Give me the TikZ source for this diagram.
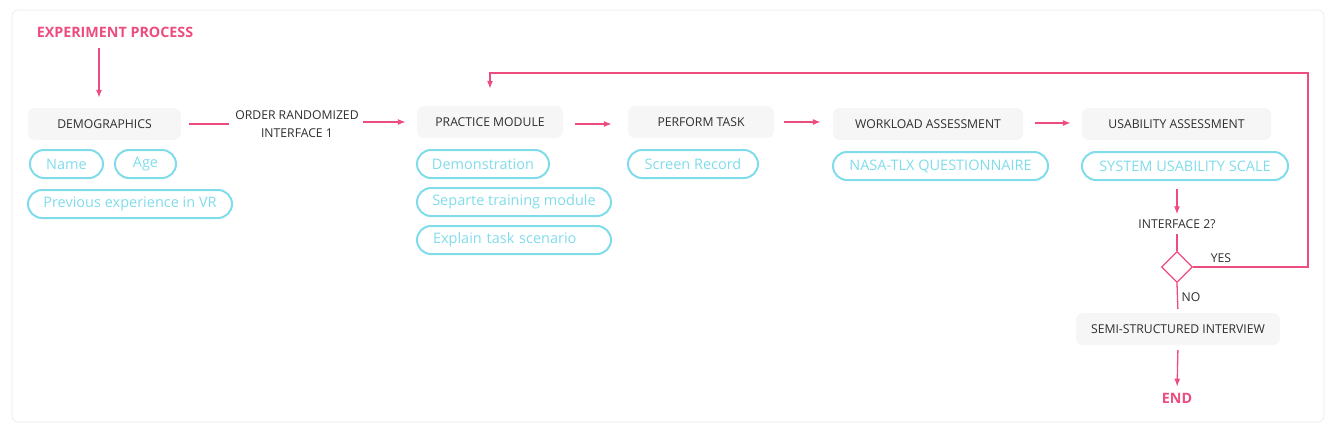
\documentclass[tikz,border=0pt]{standalone}
\usepackage{fontspec}
\setmainfont{Open Sans}
\usetikzlibrary{arrows.meta,shapes.geometric}
\definecolor{pinkc}{HTML}{EC4C7E}
\definecolor{cyanc}{HTML}{80DCEB}
\definecolor{boxgray}{HTML}{F6F6F6}
\definecolor{textdark}{HTML}{2E2E2E}
\definecolor{framec}{HTML}{EFEFEF}
\tikzset{
  graybox/.style={rounded corners=7, fill=boxgray, minimum height=32, inner xsep=0,
    text=textdark, font=\fontsize{12.2}{14}\selectfont},
  pill/.style={draw=cyanc, line width=2, rounded corners=14, minimum height=28, inner xsep=0,
    text=cyanc, font=\fontsize{14.5}{16}\selectfont},
  plain/.style={text=textdark, font=\fontsize{12.2}{18}\selectfont, inner sep=0},
  hot/.style={text=pinkc, font=\bfseries\fontsize{14.3}{16}\selectfont, inner sep=0},
  conn/.style={draw=pinkc, line width=1.3},
  arr/.style={conn, -{Latex[length=8,width=6]}},
}
\begin{document}
\begin{tikzpicture}[x=1pt,y=-1pt]
\useasboundingbox (0,0) rectangle (1334,439);
\draw[framec, line width=1, rounded corners=6] (12,10) rectangle (1324,422);

% title
\node[hot] (title) at (115,32) {EXPERIMENT PROCESS};
\coordinate (titlefoot) at (99,48);

% main boxes
\node[graybox, minimum width=153] (demo) at (104.5,124) {DEMOGRAPHICS};
\node[plain, align=center] (order) at (297,124) {ORDER RANDOMIZED\\INTERFACE 1};
\node[graybox, minimum width=146] (practice) at (490,122) {PRACTICE MODULE};
\node[graybox, minimum width=146] (perform) at (701,122) {PERFORM TASK};
\node[graybox, minimum width=190] (workload) at (928,124) {WORKLOAD ASSESSMENT};
\node[graybox, minimum width=189] (usab) at (1176.5,124) {USABILITY ASSESSMENT};

% pills
\node[pill, minimum width=73] (name) at (66.5,164) {Name};
\node[pill, minimum width=61] (age) at (145.5,164) {Age};
\node[pill, minimum width=204] (prev) at (130,204) {Previous experience in VR};
\node[pill, minimum width=132] (demon) at (483,164) {Demonstration};
\node[pill, minimum width=194] (sep) at (514,202) {Separte training module};
\node[pill, inner xsep=16, text width=162, align=left] (expl) at (514,240) {Explain task scenario};
\node[pill, minimum width=130] (screen) at (693,164) {Screen Record};
\node[pill, minimum width=215] (nasa) at (940.5,166) {NASA-TLX QUESTIONNAIRE};
\node[pill, minimum width=206] (sus) at (1185,166) {SYSTEM USABILITY SCALE};

% decision
\node[plain] (q) at (1177,224) {INTERFACE 2?};
\node[draw=pinkc, line width=1.3, diamond, minimum width=31, minimum height=31, inner sep=0] (dia) at (1177,267) {};
\node[plain] (yes) at (1221,258) {YES};
\node[plain] (no) at (1191,297) {NO};
\node[graybox, minimum width=204] (semi) at (1178,329) {SEMI-STRUCTURED INTERVIEW};
\node[hot] (endn) at (1177,398) {END};
\coordinate (loopR) at (1308,73);
\coordinate (loopL) at (490,73);

% connectors
\draw[arr] (titlefoot) -- (titlefoot |- demo.north) [shorten >=10];
\draw[conn, shorten <=8, shorten >=6] (demo.east) -- (order.west |- demo.east);
\draw[arr, shorten <=4, shorten >=11] (order.east |- practice.east) -- (practice.west);
\draw[arr, shorten <=12, shorten >=16] ([yshift=-2]practice.east) -- ([yshift=-2]perform.west);
\draw[arr, shorten <=10, shorten >=12] (perform.east) -- (perform.east -| workload.west);
\draw[arr, shorten <=12, shorten >=11] ([yshift=1]workload.east) -- ([yshift=1]usab.west);
\draw[arr, shorten <=8, shorten >=5] (sus.south -| q.north) -- (q.north);
\draw[conn, shorten <=5] (q.south) -- (dia.north);
\draw[arr, shorten >=17] (dia.east) -| (loopR) -- (loopL) -- (practice.north);
\draw[conn, shorten >=4] (dia.south) -- (semi.north);
\draw[arr, shorten <=5, shorten >=6] (semi.south) -- (endn.north);
\end{tikzpicture}
\end{document}
